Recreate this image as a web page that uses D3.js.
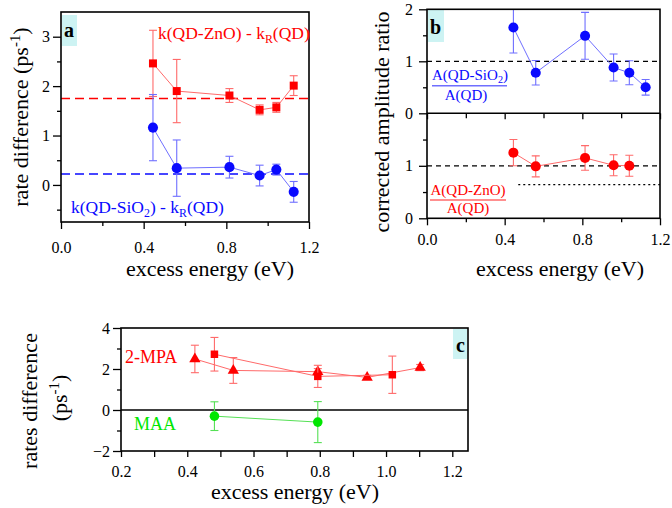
<!DOCTYPE html>
<html><head><meta charset="utf-8">
<script src="https://cdn.jsdelivr.net/npm/d3@7"></script>
<style>
body{margin:0;background:#fff}
svg{display:block}
text{font-family:"Liberation Serif","Times New Roman",serif}
</style>
</head><body>
<svg id="chart" width="672" height="508"></svg>
<script>
// ---------- DATA ----------
// Panel a: rate difference vs excess energy
const energyA = [0.445, 0.56, 0.815, 0.961, 1.042, 1.126];
const rateZnO = [2.46, 1.90, 1.81, 1.52, 1.57, 2.01];
const rateZnOErr = [0.67, 0.64, 0.14, 0.10, 0.10, 0.20];
const rateSiO2 = [1.16, 0.34, 0.36, 0.19, 0.31, -0.14];
const rateSiO2Err = [0.67, 0.57, 0.22, 0.21, 0.11, 0.21];
const meanZnO = 1.75;
const meanSiO2 = 0.22;
const xTicksAB = [0.0, 0.4, 0.8, 1.2];
const xMinorAB = [0.2, 0.6, 1.0];
const yTicksA = [0, 1, 2, 3];
const yMinorA = [-0.5, 0.5, 1.5, 2.5];

// Panel b: corrected amplitude ratio
const energyB1 = [0.445, 0.56, 0.814, 0.961, 1.042, 1.126];
const ampSiO2 = [1.65, 0.78, 1.49, 0.88, 0.78, 0.50];
const ampSiO2Err = [0.49, 0.235, 0.45, 0.26, 0.23, 0.15];
const energyB2 = [0.445, 0.56, 0.814, 0.961, 1.042];
const ampZnO = [1.25, 0.99, 1.15, 1.01, 1.00];
const ampZnOErr = [0.25, 0.20, 0.235, 0.20, 0.20];
const refLevel = 1;
const dottedLevel = 0.64;
const dottedStart = 0.47;

// Panel c: rates difference for ligands
const energyTri = [0.423, 0.539, 0.794, 0.943, 1.103];
const rateTri = [2.49, 1.93, 1.87, 1.59, 2.07];
const rateTriErr = [0.67, 0.63, 0.15, 0.10, 0.15];
const energySq = [0.482, 0.794, 1.019];
const rateSq = [2.72, 1.64, 1.72];
const rateSqErr = [0.82, 0.54, 0.91];
const energyMAA = [0.482, 0.794];
const rateMAA = [-0.30, -0.59];
const rateMAAErr = [0.70, 1.00];
const xTicksC = [0.2, 0.4, 0.6, 0.8, 1.0, 1.2];
const xMinorC = [0.3, 0.5, 0.7, 0.9, 1.1];
const yTicksC = [-2, 0, 2, 4];
const yMinorC = [-1, 1, 3];

// ---------- STYLE ----------
const RED = "#ff0000", RED_L = "#ff6a6a";
const BLUE = "#0a0aff", BLUE_L = "#6f6fff";
const GREEN = "#00e600", GREEN_L = "#55e055";
const CYAN = "#cdf3f3";
const FONT = "Liberation Serif";

const svg = d3.select("#chart");
let clipId = 0;

function styleAxis(g, fs) {
  g.select(".domain").remove();
  g.selectAll("line").attr("stroke", "#000").attr("stroke-width", 1.3);
  g.selectAll("text").attr("font-size", fs).attr("fill", "#000").attr("font-family", FONT);
}

function xAxis(x, yPos, major, minor, labelBase, fmt, majorLen, minorLen) {
  const g = svg.append("g").attr("transform", `translate(0,${yPos})`)
    .call(d3.axisBottom(x).tickValues(major).tickSize(majorLen).tickFormat(labelBase == null ? "" : fmt));
  styleAxis(g, 16);
  g.selectAll("text").attr("y", labelBase).attr("dy", null);
  const g2 = svg.append("g").attr("transform", `translate(0,${yPos})`)
    .call(d3.axisBottom(x).tickValues(minor).tickSize(minorLen).tickFormat(""));
  styleAxis(g2, 16);
}

function yAxis(y, xPos, major, minor, pad, fmt) {
  const g = svg.append("g").attr("transform", `translate(${xPos},0)`)
    .call(d3.axisLeft(y).tickValues(major).tickSize(8).tickPadding(pad).tickFormat(fmt));
  styleAxis(g, 16);
  const g2 = svg.append("g").attr("transform", `translate(${xPos},0)`)
    .call(d3.axisLeft(y).tickValues(minor).tickSize(4).tickFormat(""));
  styleAxis(g2, 16);
}

function frame(x0, y0, x1, y1) {
  svg.append("rect").attr("x", x0).attr("y", y0).attr("width", x1 - x0).attr("height", y1 - y0)
    .attr("fill", "none").attr("stroke", "#000").attr("stroke-width", 1.6);
}

function makeClip(x0, y0, x1, y1) {
  const id = "clip" + (clipId++);
  svg.append("clipPath").attr("id", id).append("rect")
    .attr("x", x0).attr("y", y0).attr("width", x1 - x0).attr("height", y1 - y0);
  return svg.append("g").attr("clip-path", `url(#${id})`);
}

function series(g, x, y, xs, ys, es, markColor, lineColor, symbol, size) {
  const pts = xs.map((v, i) => ({x: v, y: ys[i], e: es[i]}));
  g.append("path").datum(pts)
    .attr("d", d3.line().x(d => x(d.x)).y(d => y(d.y)))
    .attr("fill", "none").attr("stroke", lineColor).attr("stroke-width", 1);
  const eb = g.append("g").attr("stroke", lineColor).attr("stroke-width", 1.1);
  pts.forEach(d => {
    const cx = x(d.x);
    eb.append("line").attr("x1", cx).attr("x2", cx).attr("y1", y(d.y - d.e)).attr("y2", y(d.y + d.e));
    [d.y - d.e, d.y + d.e].forEach(v => {
      eb.append("line").attr("x1", cx - 4).attr("x2", cx + 4).attr("y1", y(v)).attr("y2", y(v));
    });
  });
  g.selectAll(null).data(pts).enter().append("path")
    .attr("transform", d => `translate(${x(d.x)},${y(d.y)})`)
    .attr("d", d3.symbol().type(symbol).size(size))
    .attr("fill", markColor);
}

function hline(g, x, y, x0, x1, v, color, dash, w) {
  g.append("line").attr("x1", x(x0)).attr("x2", x(x1)).attr("y1", y(v)).attr("y2", y(v))
    .attr("stroke", color).attr("stroke-width", w).attr("stroke-dasharray", dash);
}

function label(tx, ty, color, size, parts, anchor) {
  const t = svg.append("text").attr("x", tx).attr("y", ty).attr("fill", color)
    .attr("font-size", size).attr("text-anchor", anchor || "start");
  parts.forEach(p => {
    const s = t.append("tspan").text(p.t);
    if (p.sub) s.attr("font-size", size * 0.68).attr("baseline-shift", "-30%");
    if (p.sup) s.attr("font-size", size * 0.68).attr("baseline-shift", "55%");
  });
  return t;
}

function vlabel(tx, ty, size, parts) {
  const t = svg.append("text").attr("transform", `translate(${tx},${ty}) rotate(-90)`)
    .attr("text-anchor", "middle").attr("font-size", size).attr("fill", "#000");
  parts.forEach(p => {
    const s = t.append("tspan").text(p.t);
    if (p.sup) s.attr("font-size", size * 0.68).attr("baseline-shift", "55%");
  });
}

function panelTag(x0, y0, w, h, letter, tx, ty) {
  svg.append("rect").attr("x", x0).attr("y", y0).attr("width", w).attr("height", h).attr("fill", CYAN);
  svg.append("text").attr("x", tx).attr("y", ty).attr("font-size", 20).attr("font-weight", "bold")
    .attr("fill", "#000").text(letter);
}

const fmt1 = d3.format(".1f");

// ---------- PANEL A ----------
{
  const L = 61, R = 309, T = 12, B = 222;
  const x = d3.scaleLinear().domain([0, 1.2]).range([L, R]);
  const y = d3.scaleLinear().domain([-0.75, 3.5]).range([B, T]);
  panelTag(62, 15, 15, 31, "a", 64, 37);
  const g = makeClip(L, T, R, B);
  hline(g, x, y, 0, 1.2, meanZnO, RED, "9,5", 1.6);
  hline(g, x, y, 0, 1.2, meanSiO2, BLUE, "9,5", 1.6);
  series(g, x, y, energyA, rateZnO, rateZnOErr, RED, RED_L, d3.symbolSquare, 64);
  series(g, x, y, energyA, rateSiO2, rateSiO2Err, BLUE, BLUE_L, d3.symbolCircle, 80);
  frame(L, T, R, B);
  xAxis(x, B, xTicksAB, xMinorAB, 31, fmt1, 7, 4);
  yAxis(y, L, yTicksA, yMinorA, 3, d3.format("d"));
  label(158, 39, RED, 17.5, [{t: "k(QD-ZnO) - k"}, {t: "R", sub: true}, {t: "(QD)"}]);
  label(71, 213, BLUE, 17.5, [{t: "k(QD-SiO"}, {t: "2", sub: true}, {t: ") - k"}, {t: "R", sub: true}, {t: "(QD)"}]);
  vlabel(28, 117, 22, [{t: "rate difference (ps"}, {t: "-1", sup: true}, {t: ")"}]);
  svg.append("text").attr("x", 210).attr("y", 276).attr("text-anchor", "middle")
    .attr("font-size", 22).text("excess energy (eV)");
}

// ---------- PANEL B ----------
{
  const L = 427, R = 660, T = 9.3, M = 113.3, B = 218.3;
  const x = d3.scaleLinear().domain([0, 1.2]).range([L, R]);
  const yTop = d3.scaleLinear().domain([0, 2]).range([M, T]);
  const yBot = d3.scaleLinear().domain([0, 2]).range([B, M]);
  panelTag(428, 10, 16, 32, "b", 430, 34);
  const gT = makeClip(L, T, R, M);
  hline(gT, x, yTop, 0, 1.2, refLevel, "#000", "5,4", 1.3);
  series(gT, x, yTop, energyB1, ampSiO2, ampSiO2Err, BLUE, BLUE_L, d3.symbolCircle, 80);
  const gB = makeClip(L, M, R, B);
  hline(gB, x, yBot, 0, 1.2, refLevel, "#000", "5,4", 1.3);
  hline(gB, x, yBot, dottedStart, 1.2, dottedLevel, "#000", "2,3", 1.2);
  series(gB, x, yBot, energyB2, ampZnO, ampZnOErr, RED, RED_L, d3.symbolCircle, 80);
  frame(L, T, R, B);
  svg.append("line").attr("x1", L).attr("x2", R).attr("y1", M).attr("y2", M)
    .attr("stroke", "#000").attr("stroke-width", 1.6);
  xAxis(x, M, xTicksAB, xMinorAB, null, fmt1, 6, 5);
  xAxis(x, B, xTicksAB, xMinorAB, 27, fmt1, 7, 4);
  yAxis(yTop, L, [0, 1, 2], [0.5, 1.5], 6, d3.format("d"));
  yAxis(yBot, L, [0, 1], [0.5, 1.5], 6, d3.format("d"));
  // fraction labels
  label(470, 80, BLUE, 15, [{t: "A(QD-SiO"}, {t: "2", sub: true}, {t: ")"}], "middle");
  svg.append("line").attr("x1", 432).attr("x2", 507).attr("y1", 85.7).attr("y2", 85.7)
    .attr("stroke", BLUE_L).attr("stroke-width", 1.4);
  label(466, 100, BLUE, 15, [{t: "A(QD)"}], "middle");
  label(468, 195, RED, 15, [{t: "A(QD-ZnO)"}], "middle");
  svg.append("line").attr("x1", 430).attr("x2", 506).attr("y1", 200).attr("y2", 200)
    .attr("stroke", RED_L).attr("stroke-width", 1.4);
  label(468, 213, RED, 15, [{t: "A(QD)"}], "middle");
  vlabel(389, 122, 22, [{t: "corrected amplitude ratio"}]);
  svg.append("text").attr("x", 560).attr("y", 276).attr("text-anchor", "middle")
    .attr("font-size", 22).text("excess energy (eV)");
}

// ---------- PANEL C ----------
{
  const L = 121, R = 468, T = 328, B = 451;
  const x = d3.scaleLinear().domain([0.2, 1.2474]).range([L, R]);
  const y = d3.scaleLinear().domain([-2, 4]).range([B, T]);
  panelTag(453, 329, 14, 30, "c", 456, 352);
  const g = makeClip(L, T, R, B);
  g.append("line").attr("x1", L).attr("x2", R).attr("y1", y(0)).attr("y2", y(0))
    .attr("stroke", "#000").attr("stroke-width", 1.4);
  series(g, x, y, energyTri, rateTri, rateTriErr, RED, RED_L, d3.symbolTriangle, 55);
  series(g, x, y, energySq, rateSq, rateSqErr, RED, RED_L, d3.symbolSquare, 56);
  series(g, x, y, energyMAA, rateMAA, rateMAAErr, GREEN, GREEN_L, d3.symbolCircle, 72);
  frame(L, T, R, B);
  xAxis(x, B, xTicksC, xMinorC, 26, fmt1, 6, 6);
  yAxis(y, L, yTicksC, yMinorC, 3, d3.format("d"));
  label(125, 363, RED, 18, [{t: "2-MPA"}]);
  label(134, 430, GREEN, 18, [{t: "MAA"}]);
  vlabel(37, 401, 22, [{t: "rates difference"}]);
  vlabel(67, 398, 22, [{t: "(ps"}, {t: "-1", sup: true}, {t: ")"}]);
  svg.append("text").attr("x", 295).attr("y", 499).attr("text-anchor", "middle")
    .attr("font-size", 22).text("excess energy (eV)");
}
</script>
</body></html>
